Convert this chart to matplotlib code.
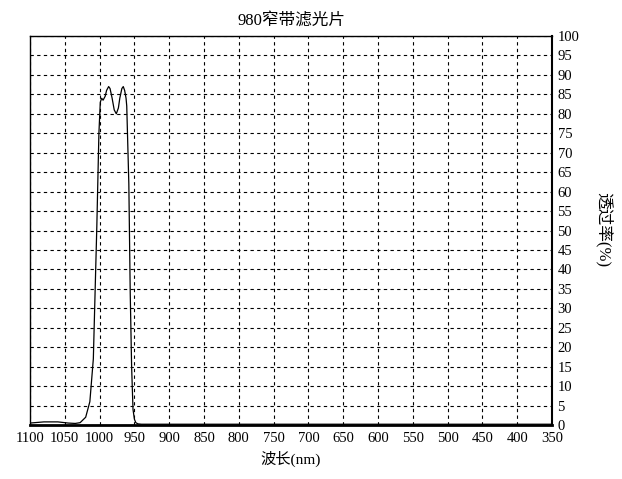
import matplotlib
matplotlib.use("Agg")
import matplotlib.pyplot as plt

plt.rcParams['font.family'] = ['Liberation Serif', 'Noto Sans CJK SC']

wavelength = [1100, 1080, 1060, 1045, 1035, 1028, 1020, 1014, 1009, 1004, 1001, 999, 997, 995, 992, 990, 987, 985, 982, 979, 976, 973, 971, 968, 966, 964, 962, 961, 958, 956, 954, 952, 950, 948, 945, 940, 900, 800, 600, 350]
transmit = [0.5, 0.8, 0.8, 0.5, 0.4, 0.6, 2, 6, 17, 51, 75, 83, 84, 83.5, 84.5, 86, 87, 86.5, 84, 81, 80, 81.5, 84, 86.5, 87, 86, 84, 82, 62, 34, 15, 4, 1.5, 0.6, 0.3, 0.2, 0.2, 0.2, 0.2, 0.2]

xticks = list(range(1100, 349, -50))
yticks = list(range(0, 101, 5))

fig = plt.figure(figsize=(6.22, 4.79), dpi=100)
ax = fig.add_axes([30/622, 1-425/479, 522/622, 389/479])
ax.plot(wavelength, transmit, color='black', lw=0.9)
ax.set_xlim(1100, 350)
ax.set_ylim(0, 100)
ax.set_xticks(xticks)
ax.set_xticklabels([str(t) for t in xticks], fontsize=10.5)
ax.set_yticks(yticks)
ax.set_yticklabels([str(t) for t in yticks], fontsize=10.5)
ax.yaxis.tick_right()
ax.tick_params(length=0)
ax.tick_params(axis='x', pad=5)
ax.tick_params(axis='y', pad=4)
ax.grid(True, color='black', ls=(0, (3, 3)), lw=0.8)
for s in ax.spines.values():
    s.set_linewidth(1)
ax.spines['bottom'].set_linewidth(2)
ax.spines['right'].set_linewidth(1.5)
ax.set_title('980窄带滤光片', fontsize=12, pad=8)
ax.set_xlabel('波长(nm)', fontsize=11, labelpad=4)
fig.text(604/622, 1-230/479, '透过率(%)', fontsize=12, rotation=270, ha='center', va='center')
fig.savefig('out.png', dpi=100)
